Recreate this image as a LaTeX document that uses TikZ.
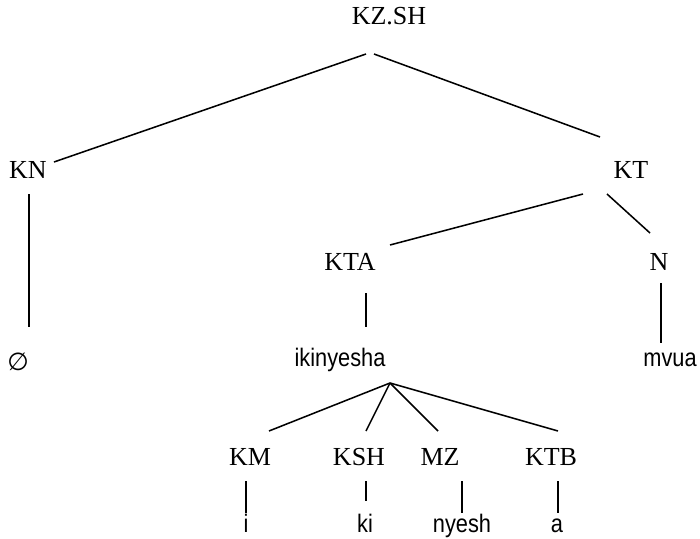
\documentclass[tikz,border=0pt]{standalone}
\usepackage{fontspec}
\setmainfont{Liberation Serif}
\newfontfamily\wordfont[FakeStretch=0.86]{Liberation Sans}
\newfontfamily\symfont{DejaVu Sans}
\begin{document}
\begin{tikzpicture}[x=0.75pt,y=-0.75pt,
  cat/.style={inner sep=0pt,anchor=base,font=\fontsize{19.5}{21}\selectfont},
  word/.style={inner sep=0pt,anchor=base,font=\wordfont\fontsize{19}{21}\selectfont},
  branch/.style={line width=1.15pt,line cap=butt}]
\useasboundingbox (0,0) rectangle (700,539);

% category labels
\node[cat] (KZSH) at (389,25) {KZ.SH};
\node[cat] (KN)   at (28,178) {KN};
\node[cat] (KT)   at (631,178) {KT};
\node[cat] (KTA)  at (350,270) {KTA};
\node[cat] (N)    at (659,270) {N};
\node[cat] (KM)   at (250,465) {KM};
\node[cat] (KSH)  at (359,465) {KSH};
\node[cat] (MZ)   at (440,465) {MZ};
\node[cat] (KTB)  at (551,465) {KTB};

% terminal words
\node[inner sep=0pt,font=\symfont\fontsize{18.5}{20}\selectfont] (empty) at (18,362) {∅};
\node[word] (ikin)  at (340,366) {ikinyesha};
\node[word] (mvua)  at (670,366) {mvua};
\node[word] (wi)    at (246,532) {i};
\node[word] (wki)   at (365,532) {ki};
\node[word] (wnyesh) at (462,532) {nyesh};
\node[word] (wa)    at (557,532) {a};

% branches
\draw[branch] ([shift={(-23,29)}]KZSH.base) -- ([shift={(26,-16)}]KN.base);
\draw[branch] ([shift={(-15,29)}]KZSH.base) -- ([shift={(-31,-41)}]KT.base);
\draw[branch] ([shift={(-48,16)}]KT.base) -- ([shift={(40,-25)}]KTA.base);
\draw[branch] ([shift={(-24,16)}]KT.base) -- ([shift={(-9,-37)}]N.base);
\draw[branch] ([shift={(1,16)}]KN.base) -- ([shift={(11,-35)}]empty.center);
\draw[branch] ([shift={(16,23)}]KTA.base) -- ([shift={(26,-39)}]ikin.base);
\draw[branch] ([shift={(2,13)}]N.base) -- ([shift={(-9,-23)}]mvua.base);
\draw[branch] ([shift={(50,17)}]ikin.base) -- ([shift={(19,-34)}]KM.base);
\draw[branch] ([shift={(50,17)}]ikin.base) -- ([shift={(7,-34)}]KSH.base);
\draw[branch] ([shift={(50,17)}]ikin.base) -- ([shift={(-2,-34)}]MZ.base);
\draw[branch] ([shift={(50,17)}]ikin.base) -- ([shift={(7,-34)}]KTB.base);
\draw[branch] ([shift={(-4,16)}]KM.base) -- ([shift={(0,-19)}]wi.base);
\draw[branch] ([shift={(7,16)}]KSH.base) -- ([shift={(1,-31)}]wki.base);
\draw[branch] ([shift={(22,16)}]MZ.base) -- ([shift={(0,-19)}]wnyesh.base);
\draw[branch] ([shift={(7,16)}]KTB.base) -- ([shift={(1,-19)}]wa.base);
\end{tikzpicture}
\end{document}
